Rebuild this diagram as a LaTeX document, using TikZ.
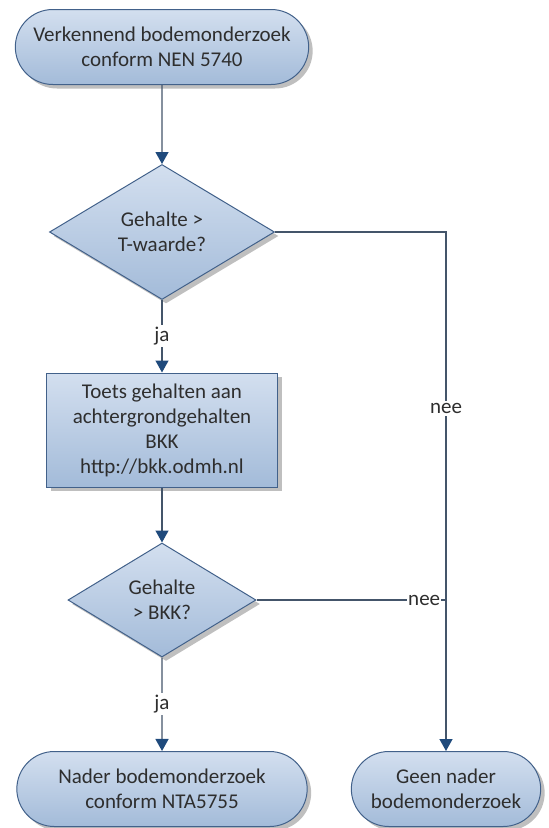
\documentclass[tikz,border=0pt]{standalone}
\usepackage{fontspec}
\setmainfont{Carlito}
\usetikzlibrary{shapes.geometric, shapes.misc, shadows, arrows.meta, positioning}

\definecolor{boxtop}{HTML}{D3DFEF}
\definecolor{boxbottom}{HTML}{A3BBD9}
\definecolor{boxline}{HTML}{42618A}
\definecolor{flowline}{HTML}{44556A}
\definecolor{tipblue}{HTML}{1F4A7C}
\definecolor{labeltext}{HTML}{2E2E2E}

\begin{document}
\begin{tikzpicture}[x=1pt, y=-1pt, font=\fontsize{21}{25}\selectfont, text=labeltext]
% Setup the styles for the shapes and the lines
\tikzset{base style/.style={draw=boxline,
		line width=1pt,
		top color=boxtop,
		bottom color=boxbottom,
		align=center,
		drop shadow={shadow xshift=4pt, shadow yshift=-4pt, fill=black, opacity=0.25}},
	end style/.style={base style, rounded rectangle, minimum height=75pt},
	test style/.style={base style, diamond, inner sep=0pt},
	task style/.style={base style, rectangle, minimum width=231pt, minimum height=114pt},
	flow/.style={draw=flowline, line width=1.3pt,
		-{Triangle[width=13pt, length=12pt, fill=tipblue, color=tipblue]}},
	answer/.style={fill=white, inner sep=2pt}}
\useasboundingbox (0,0) rectangle (549,828);

% Draw the shapes
\node[end style, minimum width=300pt] at (162,47)  (start)    {Verkennend bodemonderzoek\\conform NEN 5740};
\node[test style, minimum width=225pt, minimum height=135pt] at (162,232) (tvalue) {Gehalte >\\T-waarde?};
\node[task style] at (162,430) (bkk) {Toets gehalten aan\\achtergrondgehalten\\BKK\\http://bkk.odmh.nl};
\node[test style, minimum width=188pt, minimum height=114pt] at (162,600) (bkkcheck) {Gehalte\\> BKK?};
\node[end style, minimum width=297pt] at (162,789) (nader)    {Nader bodemonderzoek\\conform NTA5755};
\node[end style, minimum width=196pt] at (446,789) (geen)     {Geen nader\\bodemonderzoek};

% Connect the shapes with arrows
\draw[flow] (start) -- (tvalue);
\draw[flow] (tvalue) -- node[answer] {ja} (bkk);
\draw[flow] (tvalue.east) -| node[answer, pos=0.67] {nee} (geen.north);
\draw[flow] (bkk) -- (bkkcheck);
\draw[flow] (bkkcheck) -- node[answer] {ja} (nader);
\draw[draw=flowline, line width=1.3pt] (bkkcheck.east) -- node[answer, pos=0.885, inner sep=1pt] {nee} (bkkcheck.east -| geen.north);
\end{tikzpicture}
\end{document}
